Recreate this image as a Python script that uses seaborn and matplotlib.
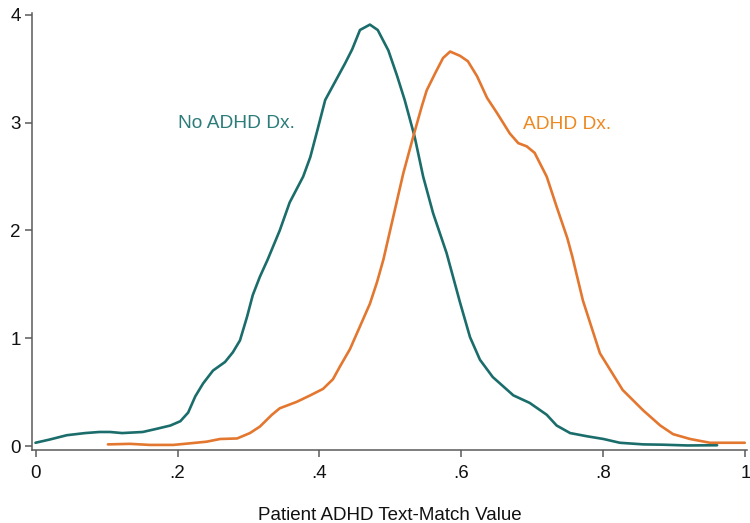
import numpy as np
import pandas as pd
import seaborn as sns
import matplotlib.pyplot as plt

# Density curves
no_adhd_x = [0.0, 0.02, 0.044, 0.07, 0.09, 0.105, 0.122, 0.151, 0.171, 0.19, 0.204, 0.215,
             0.225, 0.236, 0.25, 0.267, 0.278, 0.288, 0.298, 0.306, 0.316, 0.327, 0.344,
             0.358, 0.377, 0.387, 0.397, 0.408, 0.422, 0.436, 0.446, 0.457, 0.471, 0.482,
             0.497, 0.509, 0.52, 0.534, 0.546, 0.56, 0.579, 0.598, 0.612, 0.626, 0.644,
             0.673, 0.696, 0.72, 0.734, 0.753, 0.777, 0.8, 0.823, 0.856, 0.884, 0.918, 0.96]
no_adhd_y = [0.03, 0.06, 0.10, 0.12, 0.13, 0.13, 0.12, 0.13, 0.16, 0.19, 0.23, 0.31,
             0.46, 0.58, 0.70, 0.78, 0.87, 0.98, 1.20, 1.40, 1.57, 1.73, 2.0,
             2.26, 2.50, 2.68, 2.93, 3.21, 3.38, 3.55, 3.68, 3.86, 3.91, 3.86,
             3.67, 3.44, 3.21, 2.87, 2.50, 2.16, 1.79, 1.33, 1.01, 0.80, 0.64,
             0.47, 0.40, 0.29, 0.19, 0.12, 0.09, 0.065, 0.03, 0.015, 0.012, 0.005, 0.007]

adhd_x = [0.102, 0.133, 0.161, 0.194, 0.218, 0.241, 0.26, 0.284, 0.302, 0.316, 0.333,
          0.344, 0.368, 0.387, 0.405, 0.419, 0.429, 0.443, 0.457, 0.471, 0.481, 0.49,
          0.504, 0.518, 0.532, 0.544, 0.551, 0.563, 0.574, 0.584, 0.598, 0.609, 0.622,
          0.636, 0.65, 0.668, 0.68, 0.692, 0.703, 0.72, 0.734, 0.749, 0.756, 0.771,
          0.795, 0.827, 0.856, 0.88, 0.898, 0.922, 0.95, 0.999]
adhd_y = [0.015, 0.02, 0.01, 0.01, 0.025, 0.04, 0.065, 0.07, 0.12, 0.18, 0.29,
          0.35, 0.41, 0.47, 0.53, 0.62, 0.74, 0.90, 1.11, 1.32, 1.52, 1.73,
          2.13, 2.53, 2.87, 3.15, 3.30, 3.46, 3.60, 3.66, 3.62, 3.57, 3.43,
          3.23, 3.09, 2.90, 2.81, 2.78, 2.72, 2.50, 2.22, 1.93, 1.76, 1.35,
          0.86, 0.52, 0.33, 0.19, 0.11, 0.065, 0.03, 0.03]

groups = ["No ADHD Dx.", "ADHD Dx."]
colors = {"No ADHD Dx.": "#1b6d6b", "ADHD Dx.": "#e3772f"}
label_colors = {"No ADHD Dx.": "#2c7c7a", "ADHD Dx.": "#ee8820"}
xticks = [0, 0.2, 0.4, 0.6, 0.8, 1]
xticklabels = ["0", ".2", ".4", ".6", ".8", "1"]
yticks = [0, 1, 2, 3, 4]

df = pd.concat([
    pd.DataFrame({"x": no_adhd_x, "density": no_adhd_y, "group": groups[0]}),
    pd.DataFrame({"x": adhd_x, "density": adhd_y, "group": groups[1]}),
])

sns.set_style("ticks")
plt.rcParams["font.family"] = ["Liberation Sans", "DejaVu Sans"]

fig = plt.figure(figsize=(7.5, 5.23), dpi=100)
ax = fig.add_axes([0.0427, 0.1396, 0.9529, 0.8354])

sns.lineplot(data=df, x="x", y="density", hue="group", palette=colors,
             estimator=None, sort=False, linewidth=1.9, legend=False, ax=ax,
             solid_joinstyle="round", solid_capstyle="round")

ax.set_xlim(-0.0049, 1.0017)
ax.set_ylim(-0.037, 4.017)
ax.set_xticks(xticks)
ax.set_xticklabels(xticklabels)
ax.set_yticks(yticks)

for side in ["top", "right"]:
    ax.spines[side].set_visible(False)
for side in ["left", "bottom"]:
    ax.spines[side].set_color("#5a5a5a")
    ax.spines[side].set_linewidth(1.1)
ax.tick_params(axis="both", direction="out", length=5, width=1.1, color="#5a5a5a",
               labelsize=13.5, labelcolor="#111111", pad=3, bottom=True, left=True)
ax.tick_params(axis="x", pad=6)

ax.set_xlabel("Patient ADHD Text-Match Value", fontsize=13.5, color="#111111", labelpad=17.5)
ax.set_ylabel("")

ax.text(0.2, 2.99, "No ADHD Dx.", color=label_colors["No ADHD Dx."], fontsize=13.8,
        ha="left", va="center")
ax.text(0.687, 2.98, "ADHD Dx.", color=label_colors["ADHD Dx."], fontsize=13.8,
        ha="left", va="center")

fig.savefig("out.png", dpi=100)
